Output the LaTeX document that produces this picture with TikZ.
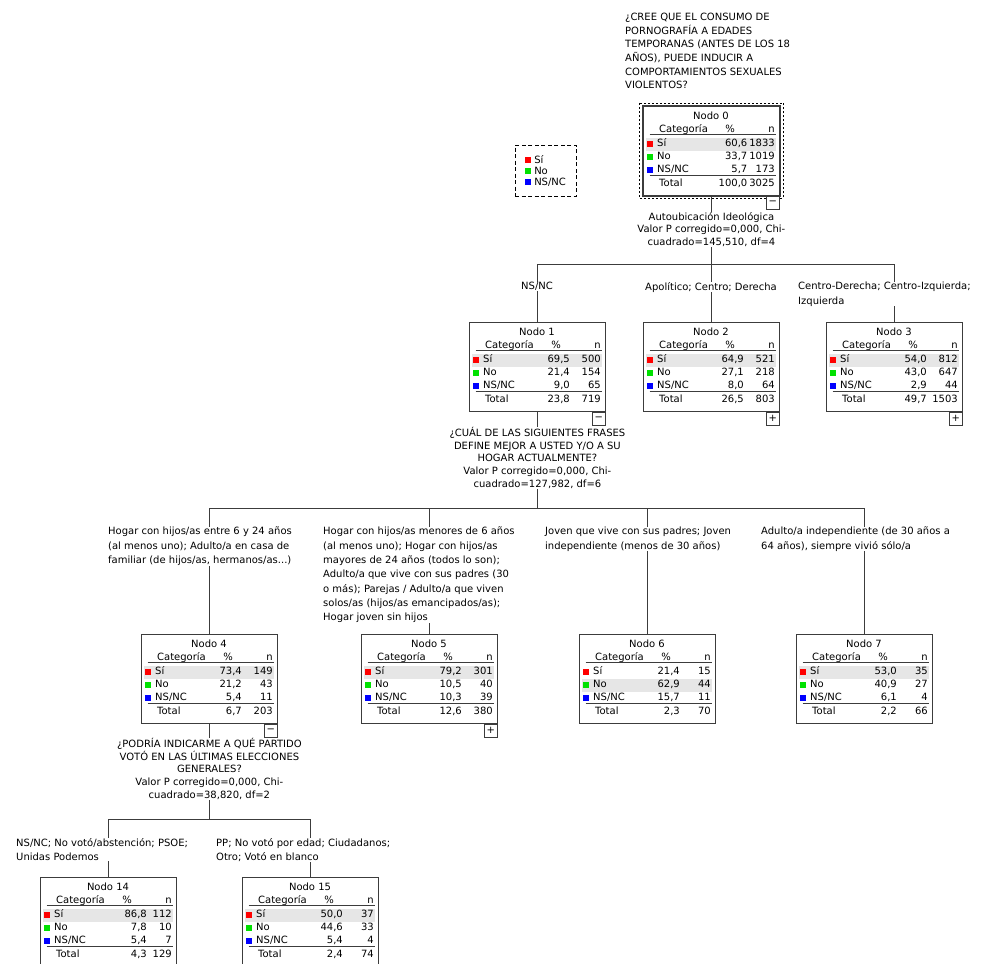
\documentclass[tikz,border=0pt]{standalone}
\usepackage{fontspec}
\setmainfont{DejaVu Sans}
\usepackage{tikz}
\usetikzlibrary{positioning, calc}
\usepackage{xcolor}
\definecolor{catsi}{RGB}{255,0,0}
\definecolor{catno}{RGB}{0,225,0}
\definecolor{catns}{RGB}{0,0,255}
\definecolor{band}{RGB}{230,230,230}
\definecolor{linegray}{RGB}{60,60,60}

\tikzset{
  txt/.style={inner sep=0pt, font=\fontsize{10}{12}\selectfont},
  nodobox/.style={draw=linegray, line width=0.8pt, fill=white, minimum width=136pt, minimum height=89pt, inner sep=0pt, anchor=north west},
  toggle/.style={txt, draw=linegray, line width=0.8pt, fill=white, minimum size=13pt, anchor=north east},
  edge/.style={linegray, line width=0.8pt},
  split/.style={txt, fill=white, align=center, font=\fontsize{10}{12.8}\selectfont},
  rama/.style={txt, fill=white, align=left, anchor=north west, font=\fontsize{10}{14.3}\selectfont},
}

\newcommand{\cuadro}[1]{\textcolor{#1}{\rule{6pt}{6pt}}}

% one tree node: box, title, header, rules, categories
\newcommand{\nodo}[5][101]{%
  \def\pctcol{#1}%
  \node[nodobox] (#2) at (#3) {};
  \fill[band] ($(#2.north west)+(3.3,{31.5+13*(#5-1)})$) rectangle ++(129.2,13);
  \node[txt] at ($(#2.north west)+(68,9.5)$) {Nodo #4};
  \node[txt, anchor=mid west] at ($(#2.north west)+(16,23.5)$) {Categoría};
  \node[txt, anchor=mid] at ($(#2.north west)+(87,23.5)$) {\%};
  \node[txt, anchor=mid east] at ($(#2.north west)+(132,23.5)$) {n};
  \draw[linegray, line width=0.6pt] ($(#2.north west)+(6.5,28.5)$) -- ++(126,0);
  \draw[linegray, line width=1.2pt] ($(#2.north west)+(6.5,69.5)$) -- ++(126,0);
  \fill[catsi] ($(#2.north west)+(3.5,35)$) rectangle ++(6,6);
  \fill[catno] ($(#2.north west)+(3.5,48)$) rectangle ++(6,6);
  \fill[catns] ($(#2.north west)+(3.5,61)$) rectangle ++(6,6);
  \node[txt, anchor=mid west] at ($(#2.north west)+(14,38)$) {Sí};
  \node[txt, anchor=mid west] at ($(#2.north west)+(14,51)$) {No};
  \node[txt, anchor=mid west] at ($(#2.north west)+(14,64)$) {NS/NC};
  \node[txt, anchor=mid west] at ($(#2.north west)+(16,77.5)$) {Total};
}

% % and n columns: Sí, No, NS/NC, Total
\newcommand{\filas}[9]{%
  \node[txt, anchor=mid east] at ($(#1.north west)+(\pctcol,38)$) {#2};
  \node[txt, anchor=mid east] at ($(#1.north west)+(132,38)$) {#3};
  \node[txt, anchor=mid east] at ($(#1.north west)+(\pctcol,51)$) {#4};
  \node[txt, anchor=mid east] at ($(#1.north west)+(132,51)$) {#5};
  \node[txt, anchor=mid east] at ($(#1.north west)+(\pctcol,64)$) {#6};
  \node[txt, anchor=mid east] at ($(#1.north west)+(132,64)$) {#7};
  \node[txt, anchor=mid east] at ($(#1.north west)+(\pctcol,77.5)$) {#8};
  \node[txt, anchor=mid east] at ($(#1.north west)+(132,77.5)$) {#9};
}

\begin{document}
\begin{tikzpicture}[x=1pt, y=-1pt]
  \useasboundingbox (0,0) rectangle (987,963);
  \clip (0,0) rectangle (987,963);

  % question
  \node[txt, align=left, anchor=north west, font=\fontsize{10}{13.6}\selectfont] (pregunta) at (625,13)
    {¿CREE QUE EL CONSUMO DE\\PORNOGRAFÍA A EDADES\\TEMPORANAS (ANTES DE LOS 18\\AÑOS), PUEDE INDUCIR A\\COMPORTAMIENTOS SEXUALES\\VIOLENTOS?};

  % legend
  \node[draw=black, dashed, dash pattern=on 4pt off 2.5pt, line width=0.6pt, minimum width=61pt, minimum height=51pt, inner sep=0pt, align=left, font=\fontsize{10}{11}\selectfont] (leyenda) at (545.5,170.5)
    {\cuadro{catsi} Sí\\\cuadro{catno} No\\\cuadro{catns} NS/NC};

  % nodes
  \nodo[104.5]{n0}{643,106}{0}{1}
  \filas{n0}{60,6}{1833}{33,7}{1019}{5,7}{173}{100,0}{3025}
  \draw[linegray, line width=2pt] (n0.north west) rectangle (n0.south east);
  \draw[dashed, dash pattern=on 2pt off 2pt, line width=0.6pt] ($(n0.north west)+(-3.5,-3)$) rectangle ($(n0.south east)+(3.5,2.5)$);

  \nodo{n1}{469,322}{1}{1}
  \filas{n1}{69,5}{500}{21,4}{154}{9,0}{65}{23,8}{719}
  \nodo{n2}{643,322}{2}{1}
  \filas{n2}{64,9}{521}{27,1}{218}{8,0}{64}{26,5}{803}
  \nodo{n3}{826,322}{3}{1}
  \filas{n3}{54,0}{812}{43,0}{647}{2,9}{44}{49,7}{1503}

  \nodo{n4}{141,634}{4}{1}
  \filas{n4}{73,4}{149}{21,2}{43}{5,4}{11}{6,7}{203}
  \nodo{n5}{361,634}{5}{1}
  \filas{n5}{79,2}{301}{10,5}{40}{10,3}{39}{12,6}{380}
  \nodo{n6}{579,634}{6}{2}
  \filas{n6}{21,4}{15}{62,9}{44}{15,7}{11}{2,3}{70}
  \nodo{n7}{796,634}{7}{1}
  \filas{n7}{53,0}{35}{40,9}{27}{6,1}{4}{2,2}{66}

  \nodo[107]{n14}{40,877}{14}{1}
  \filas{n14}{86,8}{112}{7,8}{10}{5,4}{7}{4,3}{129}
  \nodo{n15}{242,877}{15}{1}
  \filas{n15}{50,0}{37}{44,6}{33}{5,4}{4}{2,4}{74}

  % expand / collapse boxes
  \node[toggle] (t0) at (n0.south east) {−};
  \node[toggle] (t1) at (n1.south east) {−};
  \node[toggle] (t2) at (n2.south east) {+};
  \node[toggle] (t3) at (n3.south east) {+};
  \node[toggle] (t4) at (n4.south east) {−};
  \node[toggle] (t5) at (n5.south east) {+};

  % edges
  \coordinate (b0) at ($(n0.south)+(0,69)$);
  \draw[edge] (n0.south) -- (b0);
  \foreach \hijo in {n1,n2,n3} \draw[edge] (b0) -| (\hijo.north);
  \coordinate (b1) at ($(n1.south)+(0,97)$);
  \draw[edge] (n1.south) -- (b1);
  \foreach \hijo in {n4,n5,n6,n7} \draw[edge] (b1) -| (\hijo.north);
  \coordinate (b4) at ($(n4.south)+(0,96)$);
  \draw[edge] (n4.south) -- (b4);
  \foreach \hijo in {n14,n15} \draw[edge] (b4) -| (\hijo.north);

  % splits
  \node[split, below=16pt of n0] (s0)
    {Autoubicación Ideológica\\Valor P corregido=0,000, Chi-\\cuadrado=145,510, df=4};
  \node[split, below=15pt of n1] (s1)
    {¿CUÁL DE LAS SIGUIENTES FRASES\\DEFINE MEJOR A USTED Y/O A SU\\HOGAR ACTUALMENTE?\\Valor P corregido=0,000, Chi-\\cuadrado=127,982, df=6};
  \node[split, below=14pt of n4] (s4)
    {¿PODRÍA INDICARME A QUÉ PARTIDO\\VOTÓ EN LAS ÚLTIMAS ELECCIONES\\GENERALES?\\Valor P corregido=0,000, Chi-\\cuadrado=38,820, df=2};

  % branch labels
  \node[rama, anchor=north] (l1) at (537,282) {NS/NC};
  \node[rama, anchor=north] (l2) at (711,282) {Apolítico; Centro; Derecha};
  \node[rama] (l3) at (798,282) {Centro-Derecha; Centro-Izquierda;\\Izquierda};
  \node[rama] (l4) at (108,527) {Hogar con hijos/as entre 6 y 24 años\\(al menos uno); Adulto/a en casa de\\familiar (de hijos/as, hermanos/as...)};
  \node[rama] (l5) at (323,527) {Hogar con hijos/as menores de 6 años\\(al menos uno); Hogar con hijos/as\\mayores de 24 años (todos lo son);\\Adulto/a que vive con sus padres (30\\o más); Parejas / Adulto/a que viven\\solos/as (hijos/as emancipados/as);\\Hogar joven sin hijos};
  \node[rama] (l6) at (545,527) {Joven que vive con sus padres; Joven\\independiente (menos de 30 años)};
  \node[rama] (l7) at (761,527) {Adulto/a independiente (de 30 años a\\64 años), siempre vivió sólo/a};
  \node[rama] (l14) at (16,838) {NS/NC; No votó/abstención; PSOE;\\Unidas Podemos};
  \node[rama] (l15) at (216,838) {PP; No votó por edad; Ciudadanos;\\Otro; Votó en blanco};
\end{tikzpicture}
\end{document}
